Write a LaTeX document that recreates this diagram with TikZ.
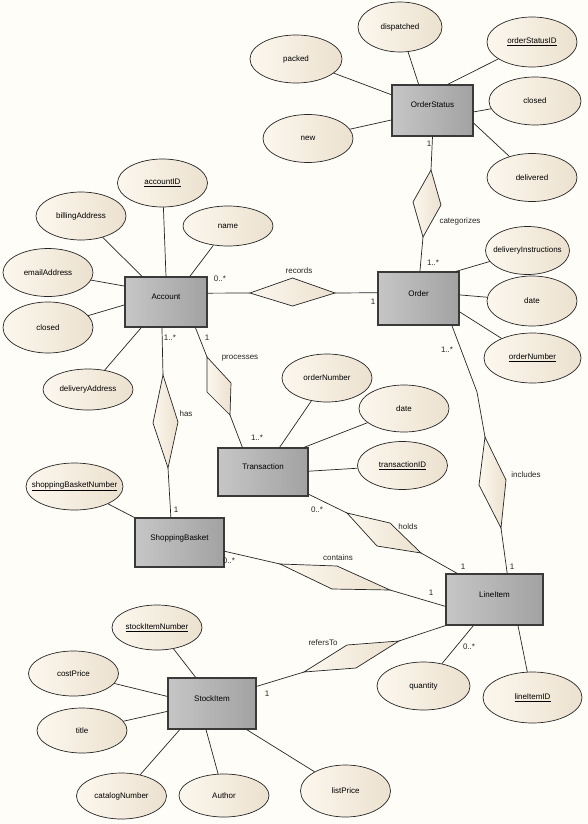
\documentclass[tikz,border=0pt]{standalone}
\usepackage{fontspec}
\setmainfont{Liberation Sans}
\usetikzlibrary{shapes.geometric}

\definecolor{paper}{HTML}{FFFDF8}
\definecolor{creamL}{HTML}{FCF7EE}
\definecolor{creamR}{HTML}{ECE1CF}
\definecolor{boxL}{HTML}{C6C6C6}
\definecolor{boxR}{HTML}{A2A2A2}
\definecolor{edge}{HTML}{3A3A3A}

\tikzset{
  entity/.style={rectangle, draw=edge, line width=1.1pt, left color=boxL, right color=boxR,
    minimum width=82pt, minimum height=50pt, text height=6pt, text depth=11pt, inner sep=0pt},
  attr/.style={ellipse, draw=black!85, line width=0.7pt, left color=creamL, right color=creamR,
    minimum width=90pt, minimum height=48pt, inner xsep=-12pt, inner ysep=0pt},
  rel/.style={draw=black!85, line width=0.7pt, left color=creamL, right color=creamR},
  conn/.style={draw=black!85, line width=0.7pt},
  lbl/.style={inner sep=0pt, text=black!85}
}
\newcommand{\keyattr}[1]{\underline{#1}}
% name, end a, side, end b, side
\newcommand{\relship}[5]{%
  \coordinate (#1-a) at #2;
  \coordinate (#1-b) at #4;
  \path[rel] (#1-a) -- #3 -- (#1-b) -- #5 -- cycle;
}

\begin{document}
\begin{tikzpicture}[x=1pt, y=-1pt, font=\fontsize{8}{9.6}\selectfont]
  \fill[paper] (0,0) rectangle (588,824);

  % entities
  \node[entity, minimum width=81pt, minimum height=51pt] (orderstatus) at (432.5,110.5) {OrderStatus};
  \node[entity] (account) at (166,302) {Account};
  \node[entity, minimum width=81pt, minimum height=53pt] (order) at (418.5,298.5) {Order};
  \node[entity, minimum width=90pt, minimum height=48pt] (transaction) at (263,472) {Transaction};
  \node[entity, minimum width=89pt, minimum height=49pt] (basket) at (179.5,542.5) {ShoppingBasket};
  \node[entity, minimum width=97pt, minimum height=51pt] (lineitem) at (494.5,599.5) {LineItem};
  \node[entity, minimum width=88pt, minimum height=51pt] (stockitem) at (212,703.5) {StockItem};

  % attributes
  \node[attr, minimum width=84pt, minimum height=50pt] (dispatched) at (400,27) {dispatched};
  \node[attr, minimum width=92pt] (packed) at (296,59) {packed};
  \node[attr, minimum height=50pt] (orderstatusid) at (532,42) {\keyattr{orderStatusID}};
  \node[attr, minimum width=92pt] (osclosed) at (535,101) {closed};
  \node[attr] (osnew) at (308,138.5) {new};
  \node[attr] (delivered) at (532,177.5) {delivered};

  \node[attr] (accountid) at (162.5,183) {\keyattr{accountID}};
  \node[attr] (billing) at (81,216) {billingAddress};
  \node[attr, minimum height=40pt] (name) at (228,226) {name};
  \node[attr] (email) at (48,272.5) {emailAddress};
  \node[attr, minimum height=51pt] (accclosed) at (48,327.5) {closed};
  \node[attr, minimum height=41pt] (deliveryaddr) at (88,389.5) {deliveryAddress};

  \node[attr, minimum width=84pt] (instructions) at (527.5,250.5) {deliveryInstructions};
  \node[attr, minimum height=50pt] (orderdate) at (532,301) {date};
  \node[attr, minimum width=97pt, minimum height=50pt] (ordernumber) at (532.5,358) {\keyattr{orderNumber}};

  \node[attr] (txnumber) at (327,378) {orderNumber};
  \node[attr, minimum height=47pt] (txdate) at (404,408.5) {date};
  \node[attr] (txid) at (402.5,465.5) {\keyattr{transactionID}};

  \node[attr, minimum width=97pt, minimum height=47pt] (basketnumber) at (74.5,486.5) {\keyattr{shoppingBasketNumber}};

  \node[attr, minimum width=93pt] (quantity) at (423.5,686) {quantity};
  \node[attr, minimum width=99pt, minimum height=51pt] (lineitemid) at (532.5,697.5) {\keyattr{lineItemID}};

  \node[attr, minimum height=45pt] (stocknumber) at (157,627.5) {\keyattr{stockItemNumber}};
  \node[attr, minimum height=45pt] (costprice) at (73.5,673.5) {costPrice};
  \node[attr, minimum height=45pt] (title) at (82,730.5) {title};
  \node[attr, minimum height=46pt] (catalog) at (121.5,796) {catalogNumber};
  \node[attr, minimum height=43pt] (author) at (224,795.5) {Author};
  \node[attr, minimum height=52pt] (listprice) at (345.5,791) {listPrice};

  % attribute links
  \foreach \a/\ang in {dispatched/118, orderstatusid/60, packed/159, osnew/193, osclosed/358, delivered/343}
    \draw[conn] (\a) -- (orderstatus.\ang);
  \foreach \a/\ang in {accountid/90, billing/133, name/47, email/159, accclosed/184, deliveryaddr/226}
    \draw[conn] (\a) -- (account.\ang);
  \foreach \a/\ang in {instructions/36, orderdate/5, ordernumber/342}
    \draw[conn] (\a) -- (order.\ang);
  \foreach \a/\ang in {txnumber/56, txdate/31, txid/1}
    \draw[conn] (\a) -- (transaction.\ang);
  \draw[conn] (basketnumber) -- (basket.151);
  \foreach \a/\ang in {quantity/231, lineitemid/312}
    \draw[conn] (\a) -- (lineitem.\ang);
  \foreach \a/\ang in {stocknumber/122, costprice/171, title/190, catalog/219, author/257, listprice/323}
    \draw[conn] (\a) -- (stockitem.\ang);

  % relationships
  \relship{records}{(250,293)}{(292.5,278)}{(335,293)}{(292.5,306)}
  \relship{categorizes}{(431,170)}{(441,205)}{(423,237)}{(413,202)}
  \relship{has}{(163,375)}{(178,422)}{(168,468)}{(153,423)}
  \relship{processes}{(207,357)}{(231,383)}{(230,415)}{(207,392)}
  \relship{includes}{(485,437)}{(506,480)}{(501,528)}{(479,485)}
  \relship{holds}{(347,513)}{(390,523)}{(421,553)}{(377,546)}
  \relship{contains}{(280,564)}{(337,566)}{(390,590)}{(332,589)}
  \relship{refersto}{(304,672)}{(347,645)}{(399,641)}{(356,668)}
  \coordinate (incbend) at (477,392);

  \draw[conn] (account.12) -- (records-a);
  \draw[conn] (records-b) -- (order.172);
  \draw[conn] (orderstatus.south) -- (categorizes-a);
  \draw[conn] (categorizes-b) -- (order.87);
  \draw[conn] (account.261) -- (has-a);
  \draw[conn] (has-b) -- (basket.109);
  \draw[conn] (account.319) -- (processes-a);
  \draw[conn] (processes-b) -- (transaction.130);
  \draw[conn] (order.321) -- (incbend) -- (includes-a);
  \draw[conn] (includes-b) -- (lineitem.64);
  \draw[conn] (transaction.334) -- (holds-a);
  \draw[conn] (holds-b) -- (lineitem.145);
  \draw[conn] (basket.349) -- (contains-a);
  \draw[conn] (contains-b) -- (lineitem.188);
  \draw[conn] (stockitem.21) -- (refersto-a);
  \draw[conn] (refersto-b) -- (lineitem.208);

  % role names and multiplicities
  \node[lbl] (l-os1) at (429,144) {1};
  \node[lbl] (l-cat) at (460,221) {categorizes};
  \node[lbl] (l-ord1) at (433,263) {1..*};
  \node[lbl] (l-acc0) at (220,279) {0..*};
  \node[lbl] (l-rec) at (299,271) {records};
  \node[lbl] (l-ord2) at (373,302) {1};
  \node[lbl] (l-ord3) at (447,350) {1..*};
  \node[lbl] (l-acc1) at (170,338) {1..*};
  \node[lbl] (l-acc2) at (207,338) {1};
  \node[lbl] (l-proc) at (240,358) {processes};
  \node[lbl] (l-has) at (186,414) {has};
  \node[lbl] (l-tx1) at (257,438) {1..*};
  \node[lbl] (l-sb1) at (176,510) {1};
  \node[lbl] (l-tx2) at (317,510) {0..*};
  \node[lbl] (l-holds) at (408,527) {holds};
  \node[lbl] (l-inc) at (526,475) {includes};
  \node[lbl] (l-sb2) at (229,561) {0..*};
  \node[lbl] (l-cont) at (338,558) {contains};
  \node[lbl] (l-li1) at (463,567) {1};
  \node[lbl] (l-li2) at (512,567) {1};
  \node[lbl] (l-li3) at (431,593) {1};
  \node[lbl] (l-ref) at (323,643) {refersTo};
  \node[lbl] (l-si1) at (267,694) {1};
  \node[lbl] (l-li4) at (469,647) {0..*};
\end{tikzpicture}
\end{document}
